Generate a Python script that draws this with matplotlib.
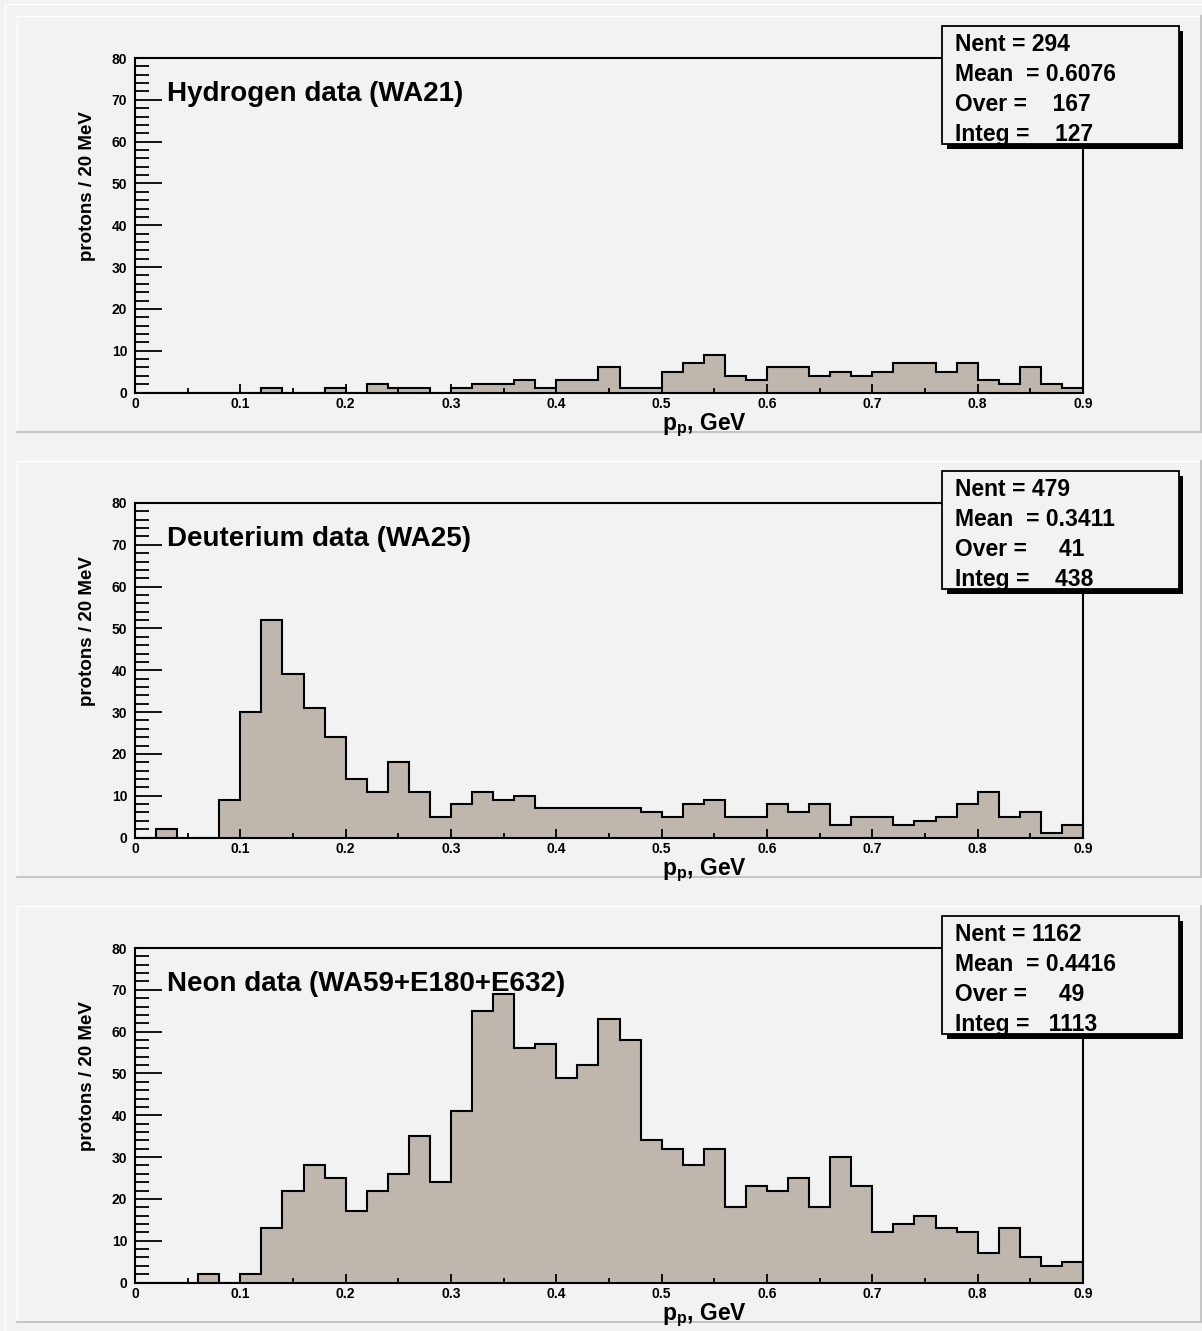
import numpy as np
import matplotlib
matplotlib.use("Agg")
import matplotlib.pyplot as plt
from matplotlib.patches import Rectangle
from matplotlib.lines import Line2D
from matplotlib.ticker import MultipleLocator

# --- canvas size in pixels ---
W, H = 1202, 1331
DPI = 100

plt.rcParams['font.family'] = ['Liberation Sans', 'DejaVu Sans']
plt.rcParams['font.weight'] = 'bold'
plt.rcParams['mathtext.fontset'] = 'custom'
plt.rcParams['mathtext.rm'] = 'Liberation Sans:bold'
plt.rcParams['mathtext.bf'] = 'Liberation Sans:bold'
plt.rcParams['mathtext.it'] = 'Liberation Sans:bold'

BG = '#f2f2f2'
FILL = '#bfb7ad'

# --- data: 45 bins of 20 MeV from 0 to 0.9 GeV ---
bin_edges = np.round(np.arange(46) * 0.02, 2)

hydrogen_counts = [0, 0, 0, 0, 0, 0, 1, 0, 0, 1,
                   0, 2, 1, 1, 0, 1, 2, 2, 3, 1,
                   3, 3, 6, 1, 1, 5, 7, 9, 4, 3,
                   6, 6, 4, 5, 4, 5, 7, 7, 5, 7,
                   3, 2, 6, 2, 1]
deuterium_counts = [0, 2, 0, 0, 9, 30, 52, 39, 31, 24,
                    14, 11, 18, 11, 5, 8, 11, 9, 10, 7,
                    7, 7, 7, 7, 6, 5, 8, 9, 5, 5,
                    8, 6, 8, 3, 5, 5, 3, 4, 5, 8,
                    11, 5, 6, 1, 3]
neon_counts = [0, 0, 0, 2, 0, 2, 13, 22, 28, 25,
               17, 22, 26, 35, 24, 41, 65, 69, 56, 57,
               49, 52, 63, 58, 34, 32, 28, 32, 18, 23,
               22, 25, 18, 30, 23, 12, 14, 16, 13, 12,
               7, 13, 6, 4, 5]

titles = ["Hydrogen data (WA21)", "Deuterium data (WA25)",
          "Neon data (WA59+E180+E632)"]

stats_lines = [
    ["Nent = 294", "Mean  = 0.6076", "Over =    167", "Integ =    127"],
    ["Nent = 479", "Mean  = 0.3411", "Over =     41", "Integ =    438"],
    ["Nent = 1162", "Mean  = 0.4416", "Over =     49", "Integ =   1113"],
]

x_ticks = [0.0, 0.1, 0.2, 0.3, 0.4, 0.5, 0.6, 0.7, 0.8, 0.9]
x_tick_labels = ['0', '0.1', '0.2', '0.3', '0.4', '0.5', '0.6', '0.7', '0.8', '0.9']
y_ticks = [0, 10, 20, 30, 40, 50, 60, 70, 80]

# --- layout (pixels) ---
PAD_TOPS = [16, 461, 906]
PAD_H = 416
PAD_X0, PAD_X1 = 17, 1201
FRAME_X0, FRAME_X1 = 135, 1083
FRAME_TOP, FRAME_BOT = 42, 376.5
BOX_X0, BOX_X1 = 942, 1179
BOX_TOP, BOX_BOT = 10, 128


def fx(x):
    return x / W


def fy(y):
    return 1 - y / H


def fig_line(fig, x0, y0, x1, y1, color, lw=1.0):
    fig.add_artist(Line2D([fx(x0), fx(x1)], [fy(y0), fy(y1)],
                          transform=fig.transFigure, color=color, lw=lw, zorder=-1))


def fig_rect(fig, x0, y0, x1, y1, **kw):
    r = Rectangle((fx(x0), fy(y1)), (x1 - x0) / W, (y1 - y0) / H,
                  transform=fig.transFigure, **kw)
    fig.add_artist(r)


fig = plt.figure(figsize=(W / DPI, H / DPI), dpi=DPI, facecolor=BG)

# canvas bevel
fig_line(fig, 5, 4, 5, H, 'white', 1.0)
fig_line(fig, 5, 4, W, 4, 'white', 1.0)

datasets = [hydrogen_counts, deuterium_counts, neon_counts]

for i, counts in enumerate(datasets):
    top = PAD_TOPS[i]
    bot = top + PAD_H

    # pad bevel
    fig_line(fig, PAD_X0, top, PAD_X1, top, 'white', 1.0)
    fig_line(fig, PAD_X0, top, PAD_X0, bot, 'white', 1.0)
    fig_line(fig, PAD_X0, bot, PAD_X1, bot, '#c4c4c4', 1.4)
    fig_line(fig, PAD_X1, top, PAD_X1, bot, '#c4c4c4', 1.4)

    f_top = top + FRAME_TOP
    f_bot = top + FRAME_BOT
    ax = fig.add_axes([fx(FRAME_X0), fy(f_bot), (FRAME_X1 - FRAME_X0) / W,
                       (f_bot - f_top) / H])
    ax.set_facecolor(BG)

    ax.stairs(counts, bin_edges, fill=True, facecolor=FILL, edgecolor='none')
    ax.stairs(counts, bin_edges, color='black', lw=1.5, baseline=0)

    ax.set_xlim(0, 0.9)
    ax.set_ylim(0, 80)

    ax.set_xticks(x_ticks)
    ax.set_xticklabels(x_tick_labels)
    ax.xaxis.set_minor_locator(MultipleLocator(0.05))
    ax.set_yticks(y_ticks)
    ax.set_yticklabels([str(v) for v in y_ticks])
    ax.yaxis.set_minor_locator(MultipleLocator(2))

    ax.tick_params(axis='y', which='major', direction='in', length=19.5,
                   width=1.3, pad=5.5, labelsize=10)
    ax.tick_params(axis='y', which='minor', direction='in', length=10, width=1.3)
    ax.tick_params(axis='x', which='major', direction='in', length=6.5,
                   width=1.3, pad=3.5, labelsize=10)
    ax.tick_params(axis='x', which='minor', direction='in', length=3.6, width=1.3)
    for sp in ax.spines.values():
        sp.set_linewidth(1.5)

    # y title, x title, panel title
    fig.text(fx(88), fy(top + 95), "protons / 20 MeV", rotation=90,
             ha='center', va='top', fontsize=13.5, fontweight='bold')
    fig.text(fx(704), fy(top + 414), r"$\mathbf{p_{p}}$, GeV",
             ha='center', va='baseline', fontsize=16.5, fontweight='bold')
    fig.text(fx(167), fy(top + 85), titles[i], ha='left', va='baseline',
             fontsize=20, fontweight='bold')

    # stats box with shadow
    b_top = top + BOX_TOP
    b_bot = top + BOX_BOT
    fig_rect(fig, BOX_X0 + 5, b_top + 5, BOX_X1 + 4, b_bot + 5,
             facecolor='black', edgecolor='none', zorder=5)
    fig_rect(fig, BOX_X0, b_top, BOX_X1, b_bot,
             facecolor=BG, edgecolor='black', lw=1.3, zorder=6)
    for k, line in enumerate(stats_lines[i]):
        fig.text(fx(955), fy(b_top + 25 + 30 * k), line, ha='left',
                 va='baseline', fontsize=16.5, fontweight='bold', zorder=7)

fig.savefig("out.png", dpi=DPI, facecolor=BG)
